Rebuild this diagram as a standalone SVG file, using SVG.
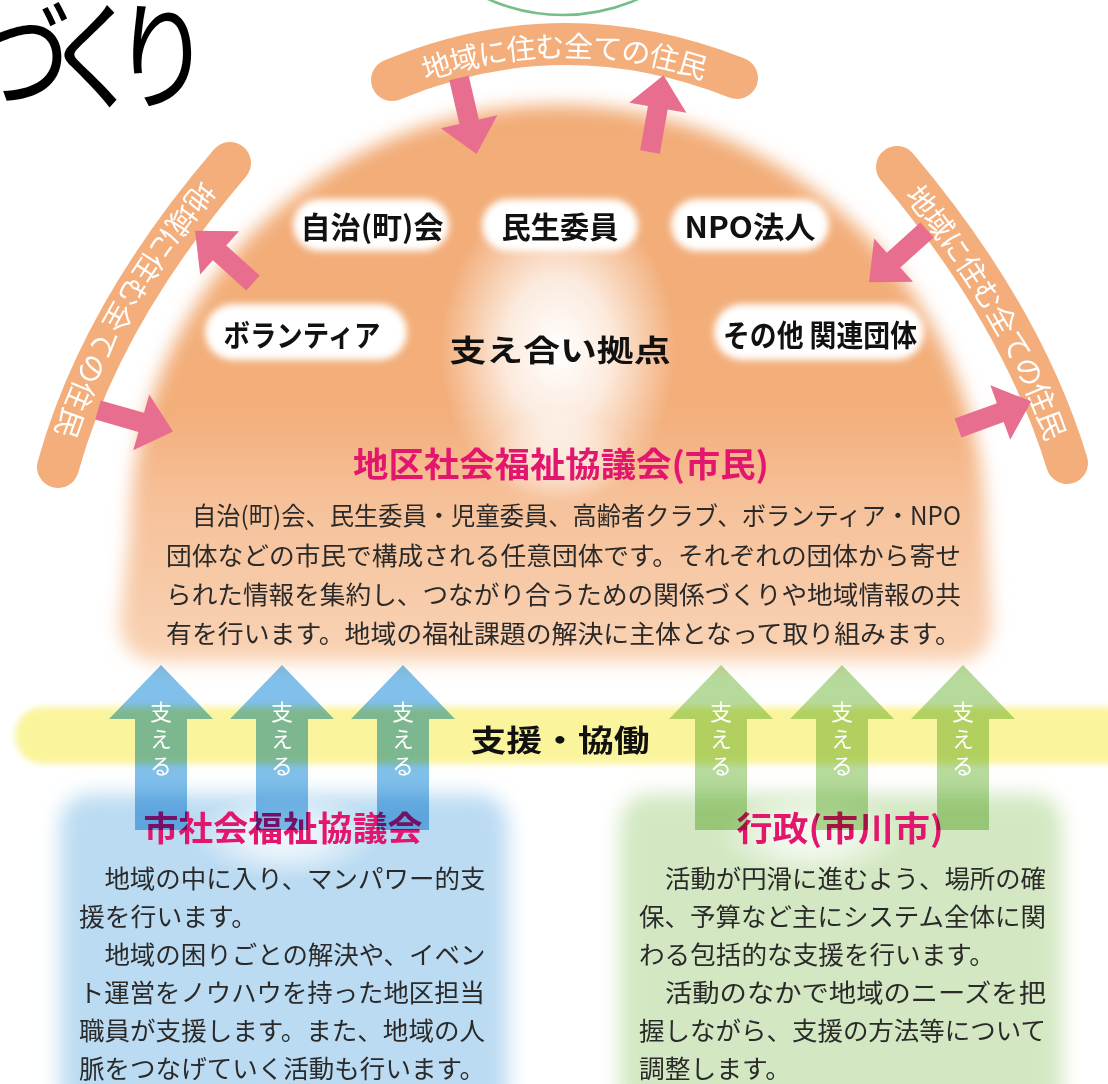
<svg xmlns="http://www.w3.org/2000/svg" xmlns:xlink="http://www.w3.org/1999/xlink" width="1108" height="1084" viewBox="0 0 1108 1084">
<style>
.jp{font-family:'Noto Sans CJK JP','Noto Sans',sans-serif}
.pillt{font-family:'Noto Sans CJK JP',sans-serif;font-weight:700;font-size:30px;fill:#111;text-anchor:middle}
.title{font-family:'Noto Sans CJK JP',sans-serif;font-weight:700;font-size:34px;fill:#E3166E;text-anchor:middle}
.body{font-family:'Noto Sans CJK JP',sans-serif;font-weight:400;font-size:25px;fill:#2A2A2A}
.band{fill:none;stroke:#F3AE7B;stroke-width:42;stroke-linecap:round}
.bandt{font-family:'Noto Sans CJK JP',sans-serif;font-size:29px;fill:#fff;text-anchor:middle;dominant-baseline:central}
.sasaeru{font-family:'Noto Sans CJK JP',sans-serif;font-size:22px;fill:#fff;writing-mode:vertical-rl;letter-spacing:5px}
.mul{mix-blend-mode:multiply}
.pink{fill:#E86E8F}
</style>
<defs>
<filter id="soft" x="-10%" y="-10%" width="120%" height="120%"><feGaussianBlur stdDeviation="9"/></filter>
<filter id="pillf" x="-20%" y="-40%" width="140%" height="180%"><feGaussianBlur stdDeviation="3.5"/></filter>
<filter id="boxf" x="-20%" y="-20%" width="140%" height="140%"><feGaussianBlur stdDeviation="10"/></filter>
<filter id="bandf" x="-5%" y="-30%" width="110%" height="160%"><feGaussianBlur stdDeviation="3"/></filter>
<linearGradient id="domeg" x1="0" y1="105" x2="0" y2="665" gradientUnits="userSpaceOnUse">
<stop offset="0" stop-color="#F2AC77"/>
<stop offset="0.55" stop-color="#F3AE7A"/>
<stop offset="0.7" stop-color="#F6C098"/>
<stop offset="1" stop-color="#F9D3B5"/>
</linearGradient>
<radialGradient id="glow" cx="0.5" cy="0.5" r="0.5">
<stop offset="0" stop-color="#fff" stop-opacity="1"/>
<stop offset="0.45" stop-color="#fff" stop-opacity="0.75"/>
<stop offset="1" stop-color="#fff" stop-opacity="0"/>
</radialGradient>
<linearGradient id="blueg" x1="0" y1="665" x2="0" y2="830" gradientUnits="userSpaceOnUse">
<stop offset="0" stop-color="#80C0EA"/>
<stop offset="0.72" stop-color="#80C0EA"/>
<stop offset="1" stop-color="#80C0EA" stop-opacity="0"/>
</linearGradient>
<linearGradient id="greeng" x1="0" y1="665" x2="0" y2="830" gradientUnits="userSpaceOnUse">
<stop offset="0" stop-color="#B6DA9C"/>
<stop offset="0.72" stop-color="#B6DA9C"/>
<stop offset="1" stop-color="#B6DA9C" stop-opacity="0"/>
</linearGradient>
<polygon id="pa" points="0,-10 45,-10 45,-29 78,0 45,29 45,10 0,10"/>
<polygon id="ua" points="0,0 52,54 26,54 26,165 -26,165 -26,54 -52,54"/>
<path id="ptop" d="M392,80 Q562,9 737,78"/>
<path id="pleft" d="M230,163 Q100,315 58,467"/>
<path id="pright" d="M897,167 Q1022,315 1067,463"/>
</defs>

<rect width="1108" height="1084" fill="#fff"/>

<g id="heading">
<text class="jp" x="-28 44 112" y="0" font-size="100" fill="#000" transform="translate(0,100) scale(1,1.18)">づくり</text>
</g>

<g id="circle-top">
<circle cx="563" cy="-170" r="185" fill="none" stroke="#74BE8A" stroke-width="2.5"/>
</g>

<g id="dome">
<path d="M130,533 A428,428 0 0 1 986,533 L992,620 Q992,662 952,662 L162,662 Q120,662 120,620 Z" fill="url(#domeg)" filter="url(#soft)"/>
<ellipse cx="558" cy="350" rx="118" ry="160" fill="url(#glow)"/>
<ellipse cx="560" cy="455" rx="70" ry="45" fill="url(#glow)" opacity="0.5"/>
</g>

<g id="node-jichikai">
<rect x="293" y="199" width="156" height="52" rx="26" fill="#fff" filter="url(#pillf)"/>
<text class="pillt" x="372" y="238" textLength="143" lengthAdjust="spacingAndGlyphs">自治(町)会</text>
</g>
<g id="node-minsei">
<rect x="482" y="199" width="156" height="52" rx="26" fill="#fff" filter="url(#pillf)"/>
<text class="pillt" x="560" y="238" textLength="117" lengthAdjust="spacingAndGlyphs">民生委員</text>
</g>
<g id="node-npo">
<rect x="671" y="199" width="158" height="52" rx="26" fill="#fff" filter="url(#pillf)"/>
<text class="pillt" x="750" y="238" textLength="131" lengthAdjust="spacingAndGlyphs">NPO法人</text>
</g>
<g id="node-volunteer">
<rect x="205" y="304" width="202" height="56" rx="28" fill="#fff" filter="url(#pillf)"/>
<text class="pillt" x="302" y="346" textLength="157" lengthAdjust="spacingAndGlyphs">ボランティア</text>
</g>
<g id="node-other">
<rect x="714" y="304" width="210" height="56" rx="28" fill="#fff" filter="url(#pillf)"/>
<text class="pillt" x="820" y="346" textLength="194" lengthAdjust="spacingAndGlyphs">その他 関連団体</text>
</g>
<g id="node-center">
<text class="pillt" x="560" y="361" font-size="37" textLength="221" lengthAdjust="spacingAndGlyphs">支え合い拠点</text>
</g>

<g id="node-chiku">
<text class="title" x="561" y="477" textLength="416" lengthAdjust="spacingAndGlyphs">地区社会福祉協議会(市民)</text>
<text class="body" x="192" y="525" textLength="769" lengthAdjust="spacingAndGlyphs">自治(町)会、民生委員・児童委員、高齢者クラブ、ボランティア・NPO</text>
<text class="body" x="166" y="565" textLength="795" lengthAdjust="spacingAndGlyphs">団体などの市民で構成される任意団体です。それぞれの団体から寄せ</text>
<text class="body" x="166" y="604" textLength="795" lengthAdjust="spacingAndGlyphs">られた情報を集約し、つながり合うための関係づくりや地域情報の共</text>
<text class="body" x="166" y="643" textLength="795" lengthAdjust="spacingAndGlyphs">有を行います。地域の福祉課題の解決に主体となって取り組みます。</text>
</g>

<g id="band-top">
<use href="#ptop" class="band"/>
<text class="bandt" font-size="31"><textPath href="#ptop" startOffset="50%">地域に住む全ての住民</textPath></text>
</g>
<g id="band-left">
<use href="#pleft" class="band"/>
<text class="bandt"><textPath href="#pleft" startOffset="50%">地域に住む全ての住民</textPath></text>
</g>
<g id="band-right">
<use href="#pright" class="band"/>
<text class="bandt"><textPath href="#pright" startOffset="50%">地域に住む全ての住民</textPath></text>
</g>

<g id="box-shakyo">
<rect x="60" y="794" width="448" height="330" rx="30" fill="#BBDBF2" filter="url(#boxf)"/>
<ellipse cx="285" cy="835" rx="95" ry="45" fill="url(#glow)" opacity="0.8"/>
<text class="title" x="283" y="841" textLength="279" lengthAdjust="spacingAndGlyphs">市社会福祉協議会</text>
<text class="body" x="104.4" y="888" textLength="381" lengthAdjust="spacingAndGlyphs">地域の中に入り、マンパワー的支</text>
<text class="body" x="79" y="926" textLength="178" lengthAdjust="spacingAndGlyphs">援を行います。</text>
<text class="body" x="104.4" y="964" textLength="381" lengthAdjust="spacingAndGlyphs">地域の困りごとの解決や、イベン</text>
<text class="body" x="79" y="1002" textLength="406" lengthAdjust="spacingAndGlyphs">ト運営をノウハウを持った地区担当</text>
<text class="body" x="79" y="1040" textLength="406" lengthAdjust="spacingAndGlyphs">職員が支援します。また、地域の人</text>
<text class="body" x="79" y="1078" textLength="406" lengthAdjust="spacingAndGlyphs">脈をつなげていく活動も行います。</text>
</g>

<g id="box-gyosei">
<rect x="620" y="794" width="442" height="330" rx="30" fill="#D3E8C2" filter="url(#boxf)"/>
<ellipse cx="812" cy="835" rx="95" ry="45" fill="url(#glow)" opacity="0.8"/>
<text class="title" x="840" y="841" textLength="207" lengthAdjust="spacingAndGlyphs">行政(市川市)</text>
<text class="body" x="665" y="888" textLength="381" lengthAdjust="spacingAndGlyphs">活動が円滑に進むよう、場所の確</text>
<text class="body" x="639" y="926" textLength="407" lengthAdjust="spacingAndGlyphs">保、予算など主にシステム全体に関</text>
<text class="body" x="639" y="964" textLength="356" lengthAdjust="spacingAndGlyphs">わる包括的な支援を行います。</text>
<text class="body" x="665" y="1002" textLength="381" lengthAdjust="spacingAndGlyphs">活動のなかで地域のニーズを把</text>
<text class="body" x="639" y="1040" textLength="407" lengthAdjust="spacingAndGlyphs">握しながら、支援の方法等について</text>
<text class="body" x="639" y="1078" textLength="152" lengthAdjust="spacingAndGlyphs">調整します。</text>
</g>

<g id="band-shien">
<rect x="15" y="707" width="1120" height="57" rx="28" fill="#FAF49C" filter="url(#bandf)"/>
<text class="pillt" x="560" y="751" font-size="35" textLength="179" lengthAdjust="spacingAndGlyphs">支援・協働</text>
</g>

<g id="connectors">
<use href="#pa" class="pink" transform="translate(459,78) rotate(77)"/>
<use href="#pa" class="pink" transform="translate(650,152) rotate(-80)"/>
<use href="#pa" class="pink" transform="translate(253,283) rotate(-138)"/>
<use href="#pa" class="pink" transform="translate(98,410) rotate(16)"/>
<use href="#pa" class="pink" transform="translate(927,230) rotate(138)"/>
<use href="#pa" class="pink" transform="translate(958,428) rotate(-20)"/>

<use href="#ua" class="mul" fill="url(#blueg)" transform="translate(161,665)"/>
<use href="#ua" class="mul" fill="url(#blueg)" transform="translate(282,665)"/>
<use href="#ua" class="mul" fill="url(#blueg)" transform="translate(403,665)"/>
<use href="#ua" class="mul" fill="url(#greeng)" transform="translate(721,665)"/>
<use href="#ua" class="mul" fill="url(#greeng)" transform="translate(842,665)"/>
<use href="#ua" class="mul" fill="url(#greeng)" transform="translate(963,665)"/>

<g class="sasaeru">
<text x="161" y="701">支える</text>
<text x="282" y="701">支える</text>
<text x="403" y="701">支える</text>
<text x="721" y="701">支える</text>
<text x="842" y="701">支える</text>
<text x="963" y="701">支える</text>
</g>
</g>
</svg>
